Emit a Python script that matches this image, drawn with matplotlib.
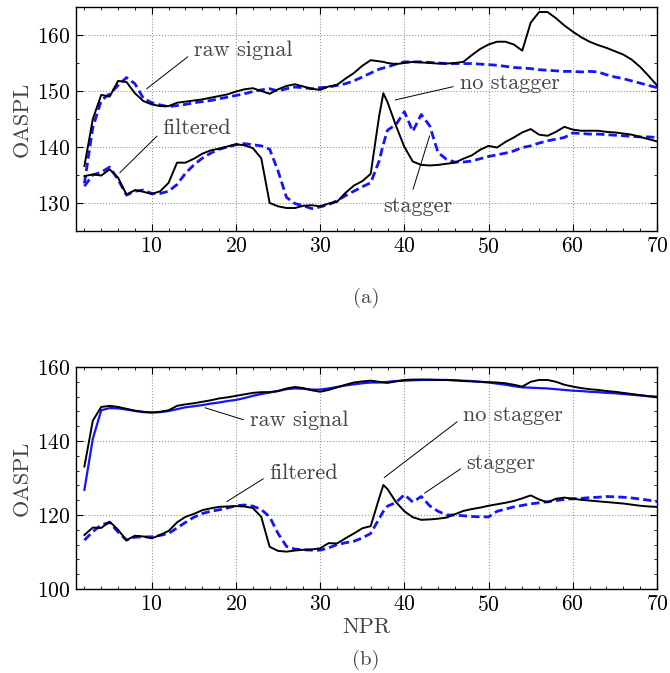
import numpy as np
import matplotlib
matplotlib.use("Agg")
import matplotlib.pyplot as plt
from matplotlib.ticker import MultipleLocator

plt.rcParams['font.family'] = ['cmr10', 'DejaVu Serif']
plt.rcParams['axes.formatter.use_mathtext'] = True
plt.rcParams['mathtext.fontset'] = 'cm'

# NPR sample points (2..37, 37.5, 38..70)
npr = np.r_[np.arange(2, 38), 37.5, np.arange(38, 71)]

# (a) top panel
a_raw_black = [136.6, 145.0, 149.3, 149.0, 151.8, 151.6, 149.6, 148.2,
               147.6, 147.3, 147.3, 147.9, 148.1, 148.3, 148.5, 148.8, 149.1, 149.4,
               149.9, 150.3, 150.5, 150.0, 149.5, 150.3, 150.9, 151.2, 150.8, 150.4,
               150.2, 150.8, 151.1, 152.2, 153.2, 154.5, 155.5, 155.3,
               155.2,
               155.0, 154.8,
               155.0, 155.2, 155.1, 155.0, 154.9, 154.9, 155.0, 155.2, 156.4, 157.5,
               158.3, 158.8, 158.8, 158.3, 157.2, 162.2, 164.1, 164.1, 163.0, 161.7,
               160.6, 159.6, 158.8, 158.2, 157.7, 157.1, 156.5, 155.6, 154.3, 152.7,
               151.0]
a_raw_blue = [133.5, 143.5, 148.3, 149.5, 151.0, 152.4, 151.3, 148.7,
              147.9, 147.5, 147.2, 147.4, 147.6, 147.9, 148.1, 148.3, 148.6, 148.9,
              149.2, 149.5, 149.9, 150.2, 150.4, 150.0, 150.4, 150.7, 150.6, 150.4,
              150.6, 150.7, 151.0, 151.3, 151.8, 152.5, 153.2, 153.9,
              154.1,
              154.3, 154.8,
              155.2, 155.2, 155.2, 155.1, 155.0, 154.9, 154.9, 154.9, 154.9, 154.8,
              154.7, 154.6, 154.4, 154.2, 154.1, 154.0, 153.8, 153.7, 153.6, 153.5,
              153.5, 153.4, 153.5, 153.4, 152.9, 152.5, 152.2, 151.8, 151.4, 151.0,
              150.6]
a_filt_black = [134.8, 135.1, 134.9, 136.0, 134.5, 131.5, 132.3, 132.0,
                131.6, 132.1, 133.6, 137.2, 137.2, 137.9, 138.8, 139.4, 139.7, 140.1,
                140.5, 140.3, 139.8, 138.0, 130.0, 129.4, 129.1, 129.1, 129.5, 129.6,
                129.4, 129.9, 130.2, 131.8, 133.1, 133.9, 135.2, 145.5,
                149.6,
                148.0, 143.8,
                140.0, 137.4, 136.8, 136.7, 136.8, 137.0, 137.2, 137.9, 138.5, 139.5,
                140.2, 139.9, 140.9, 141.7, 142.6, 143.2, 142.2, 142.0, 142.7, 143.6,
                143.1, 142.9, 142.9, 142.9, 142.7, 142.6, 142.4, 142.2, 141.8, 141.4,
                141.0]
a_filt_blue = [133.0, 135.0, 135.5, 136.4, 134.2, 131.4, 132.1, 132.3,
               131.7, 131.7, 132.1, 133.3, 135.3, 136.8, 138.0, 138.9, 139.6, 140.0,
               140.4, 140.6, 140.4, 140.2, 139.6, 135.7, 131.0, 129.9, 129.5, 129.0,
               129.3, 129.7, 130.4, 131.3, 132.1, 132.9, 133.6, 137.5,
               140.5,
               143.0, 144.0,
               146.3, 142.8, 145.8, 143.8, 139.0, 137.8, 137.3, 137.3, 137.5, 137.9,
               138.3, 138.6, 138.9, 139.3, 139.9, 140.2, 140.7, 141.1, 141.4, 141.7,
               142.5, 142.4, 142.3, 142.3, 142.2, 142.1, 142.0, 141.9, 141.8, 141.8,
               141.7]

# (b) bottom panel
b_raw_black = [133.1, 145.5, 149.2, 149.5, 149.2, 148.7, 148.2, 147.9,
               147.7, 147.9, 148.3, 149.5, 149.9, 150.2, 150.6, 151.0, 151.5, 151.8,
               152.2, 152.6, 153.0, 153.2, 153.2, 153.5, 154.2, 154.6, 154.3, 153.7,
               153.3, 153.8, 154.5, 155.2, 155.8, 156.1, 156.3, 156.0,
               155.8,
               155.7, 156.1,
               156.5, 156.6, 156.6, 156.6, 156.5, 156.5, 156.4, 156.2, 156.1, 156.0,
               155.9, 155.8, 155.6, 155.2, 154.7, 156.0, 156.5, 156.5, 156.0, 155.2,
               154.7, 154.3, 154.0, 153.8, 153.5, 153.3, 153.0, 152.7, 152.4, 152.1,
               151.8]
b_raw_blue = [126.8, 140.6, 148.3, 148.9, 148.8, 148.5, 148.1, 147.8,
              147.7, 147.8, 148.1, 148.6, 149.1, 149.4, 149.7, 150.1, 150.4, 150.8,
              151.1, 151.6, 152.2, 152.7, 153.1, 153.5, 154.0, 154.2, 154.1, 153.9,
              153.9, 154.2, 154.6, 155.0, 155.3, 155.6, 155.8, 155.8,
              155.9,
              156.0, 156.2,
              156.3, 156.4, 156.5, 156.5, 156.5, 156.5, 156.4, 156.3, 156.2, 156.0,
              155.8, 155.5, 155.2, 154.8, 154.5, 154.4, 154.3, 154.2, 154.0, 153.8,
              153.6, 153.5, 153.3, 153.2, 153.0, 152.9, 152.7, 152.5, 152.3, 152.1,
              152.0]
b_filt_black = [114.6, 116.6, 116.5, 118.2, 116.0, 113.2, 114.4, 114.2,
                113.7, 114.6, 115.7, 118.0, 119.5, 120.3, 121.3, 121.8, 122.2, 122.3,
                122.4, 122.3, 121.9, 119.5, 111.4, 110.3, 110.1, 110.4, 110.6, 110.7,
                111.0, 112.4, 112.3, 113.7, 115.0, 116.4, 117.0, 124.5,
                128.1,
                127.0, 123.5,
                121.0, 119.4, 118.7, 118.8, 119.0, 119.3, 120.2, 121.1, 121.6, 122.0,
                122.5, 122.9, 123.3, 123.8, 124.5, 125.3, 124.2, 123.4, 124.4, 124.7,
                124.4, 124.1, 123.9, 123.7, 123.5, 123.3, 123.1, 122.8, 122.5, 122.3,
                122.2]
b_filt_blue = [113.2, 115.5, 117.3, 118.0, 115.4, 113.2, 114.0, 114.1,
               114.1, 114.5, 115.0, 116.5, 118.0, 119.4, 120.4, 121.0, 121.4, 121.9,
               122.5, 122.7, 122.4, 121.5, 119.5, 115.0, 111.5, 110.8, 110.6, 110.5,
               110.5, 111.1, 112.0, 112.5, 112.9, 113.8, 115.0, 119.0,
               121.0,
               122.4, 123.4,
               125.5, 123.5, 125.0, 122.5, 121.0, 120.0, 120.0, 119.8, 119.6, 119.5,
               119.5, 121.0, 121.6, 122.2, 122.6, 123.0, 123.3, 123.6, 123.9, 124.2,
               124.4, 124.5, 124.7, 124.8, 125.0, 124.9, 124.8, 124.6, 124.3, 124.0,
               123.6]

blue = '#1414ff'
txt_col = '#444444'
fs = 16
tick_fs = 15.5

fig = plt.figure(figsize=(6.7, 6.73), dpi=100)
ax1 = fig.add_axes([0.1134, 0.6568, 0.8672, 0.3328])
ax2 = fig.add_axes([0.1134, 0.1248, 0.8672, 0.3299])


def style(ax, ylim, ymajor, yminor):
    ax.set_xlim(1, 70)
    ax.set_ylim(*ylim)
    ax.xaxis.set_major_locator(MultipleLocator(10))
    ax.xaxis.set_minor_locator(MultipleLocator(2))
    ax.yaxis.set_major_locator(MultipleLocator(ymajor))
    ax.yaxis.set_minor_locator(MultipleLocator(yminor))
    ax.tick_params(which='both', direction='in', top=True, right=True,
                   labelsize=tick_fs, pad=4)
    ax.tick_params(which='major', length=5, width=0.8)
    ax.tick_params(which='minor', length=2.5, width=0.6)
    ax.grid(True, which='major', linestyle=':', color='#999999', linewidth=0.8)
    ax.set_ylabel('OASPL', fontsize=fs, color=txt_col, labelpad=4)
    for s in ax.spines.values():
        s.set_linewidth(1.0)


def note(ax, text, xy, xytext, relpos=(0, 0.4), ha='left', va='center'):
    ax.annotate(text, xy=xy, xytext=xytext, fontsize=fs, color=txt_col,
                ha=ha, va=va,
                arrowprops=dict(arrowstyle='-', color='black', lw=0.7,
                                shrinkA=3, shrinkB=0, relpos=relpos))


# top panel
ax1.plot(npr, a_raw_black, color='black', lw=1.4, zorder=3)
ax1.plot(npr, a_raw_blue, color=blue, lw=2, dashes=(3, 1.5), zorder=2)
ax1.plot(npr, a_filt_black, color='black', lw=1.4, zorder=3)
ax1.plot(npr, a_filt_blue, color=blue, lw=2, dashes=(3, 1.5), zorder=2)
style(ax1, (125, 165), 10, 5)
note(ax1, 'raw signal', (9.4, 150.4), (15.0, 157.3))
note(ax1, 'filtered', (6.2, 135.4), (11.3, 143.3))
note(ax1, 'no stagger', (38.9, 148.4), (46.6, 151.4))
note(ax1, 'stagger', (43.0, 142.0), (41.6, 129.5), relpos=(0.4, 1), ha='center')

# bottom panel
ax2.plot(npr, b_raw_black, color='black', lw=1.4, zorder=3)
ax2.plot(npr, b_raw_blue, color=blue, lw=1.6, zorder=2)
ax2.plot(npr, b_filt_black, color='black', lw=1.4, zorder=3)
ax2.plot(npr, b_filt_blue, color=blue, lw=2, dashes=(3, 1.5), zorder=2)
style(ax2, (100, 160), 20, 4)
ax2.set_xlabel('NPR', fontsize=fs, color=txt_col, labelpad=2)
note(ax2, 'raw signal', (16.3, 149.0), (21.7, 145.7))
note(ax2, 'filtered', (18.9, 123.6), (24.0, 131.4))
note(ax2, 'no stagger', (37.6, 130.1), (47.0, 147.0))
note(ax2, 'stagger', (42.4, 125.9), (47.4, 134.1))

fig.text(366 / 670, 1 - 298 / 673, '(a)', fontsize=fs - 1, color=txt_col,
         ha='center', va='center')
fig.text(366 / 670, 1 - 660 / 673, '(b)', fontsize=fs - 1, color=txt_col,
         ha='center', va='center')

fig.savefig('out.png', dpi=100)
